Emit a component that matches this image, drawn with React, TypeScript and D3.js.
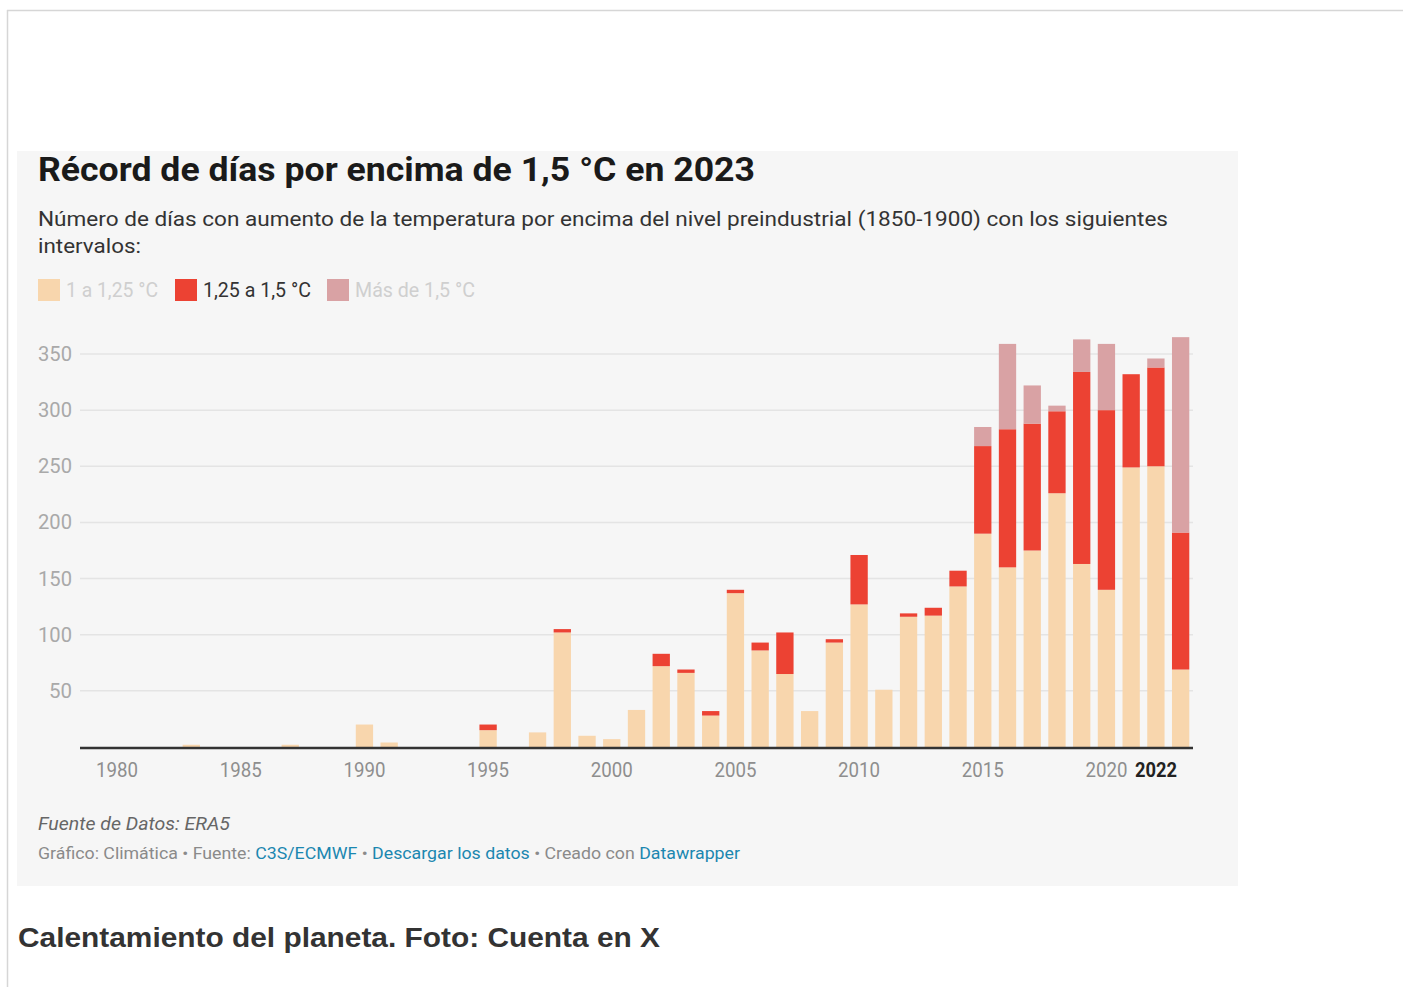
import React, { useRef, useEffect } from 'react'
import * as d3 from 'd3'

const years = d3.range(1979, 2024)

// days per year in each interval
const low = [0, 0, 0, 0, 2, 0, 0, 0, 2, 0, 0, 20, 4, 0, 0, 0, 15, 0, 13, 102, 10, 7, 33, 72, 66, 28, 137, 86, 65, 32, 93, 127, 51, 116, 117, 143, 190, 160, 175, 226, 163, 140, 249, 250, 69]
const mid = [0, 0, 0, 0, 0, 0, 0, 0, 0, 0, 0, 0, 0, 0, 0, 0, 5, 0, 0, 3, 0, 0, 0, 11, 3, 4, 3, 7, 37, 0, 3, 44, 0, 3, 7, 14, 78, 123, 113, 73, 171, 160, 83, 88, 122]
const high = [0, 0, 0, 0, 0, 0, 0, 0, 0, 0, 0, 0, 0, 0, 0, 0, 0, 0, 0, 0, 0, 0, 0, 0, 0, 0, 0, 0, 0, 0, 0, 0, 0, 0, 0, 0, 17, 76, 34, 5, 29, 59, 0, 8, 174]

const seriesKeys = ['low', 'mid', 'high']
const seriesLabels = ['1 a 1,25 °C', '1,25 a 1,5 °C', 'Más de 1,5 °C']
const seriesColors = ['#f8d6ad', '#ec4233', '#d9a2a4']
const legendTextColors = ['#cfcfcf', '#333333', '#cfcfcf']

const yTicks = [50, 100, 150, 200, 250, 300, 350]
const xTicks = [1980, 1985, 1990, 1995, 2000, 2005, 2010, 2015, 2020, 2022]

const W = 1403
const H = 987

export default function App() {
  const node = useRef<SVGSVGElement | null>(null)

  useEffect(() => {
    const svg = d3.select(node.current)
    svg.selectAll('*').remove()
    svg.attr('width', W).attr('height', H).attr('font-family', 'Roboto, sans-serif')

    // page frame
    svg.append('rect').attr('width', W).attr('height', H).attr('fill', '#fff')
    svg.append('line').attr('x1', 7).attr('x2', W).attr('y1', 10.5).attr('y2', 10.5).attr('stroke', '#d6d6d6').attr('stroke-width', 1.5)
    svg.append('line').attr('x1', 7.5).attr('x2', 7.5).attr('y1', 10).attr('y2', H).attr('stroke', '#d6d6d6').attr('stroke-width', 1.5)

    // chart panel
    svg.append('rect').attr('x', 17).attr('y', 151).attr('width', 1221).attr('height', 735).attr('fill', '#f6f6f6')

    svg.append('text').attr('x', 38).attr('y', 181).attr('font-size', 34).attr('font-weight', 700)
      .attr('fill', '#1a1a1a').attr('textLength', 717).attr('lengthAdjust', 'spacingAndGlyphs')
      .text('Récord de días por encima de 1,5 °C en 2023')

    svg.append('text').attr('x', 38).attr('y', 226).attr('font-size', 21).attr('fill', '#333')
      .attr('textLength', 1130).attr('lengthAdjust', 'spacingAndGlyphs')
      .text('Número de días con aumento de la temperatura por encima del nivel preindustrial (1850-1900) con los siguientes')
    svg.append('text').attr('x', 38).attr('y', 253).attr('font-size', 21).attr('fill', '#333')
      .attr('textLength', 103).attr('lengthAdjust', 'spacingAndGlyphs')
      .text('intervalos:')

    // legend
    const legendX = [38, 175, 327]
    const legendW = [92, 108, 120]
    seriesLabels.forEach((lab, i) => {
      svg.append('rect').attr('x', legendX[i]).attr('y', 279).attr('width', 22).attr('height', 22).attr('fill', seriesColors[i])
      svg.append('text').attr('x', legendX[i] + 28).attr('y', 297).attr('font-size', 20)
        .attr('fill', legendTextColors[i]).attr('textLength', legendW[i]).attr('lengthAdjust', 'spacingAndGlyphs')
        .text(lab)
    })

    const x = d3.scaleBand<number>().domain(years).range([80, 1193]).paddingInner(0.3).paddingOuter(0.15)
    const y = d3.scaleLinear().domain([0, 350]).range([747, 354])

    // grid + y labels
    const grid = svg.append('g')
    grid.selectAll('line').data(yTicks).join('line')
      .attr('x1', 80).attr('x2', 1193)
      .attr('y1', (d) => y(d)).attr('y2', (d) => y(d))
      .attr('stroke', '#e4e4e4').attr('stroke-width', 1.5)
    grid.selectAll('text').data(yTicks).join('text')
      .attr('x', 72).attr('y', (d) => y(d) + 7)
      .attr('text-anchor', 'end').attr('font-size', 20).attr('fill', '#a9a9a9')
      .attr('textLength', (d) => (d < 100 ? 23 : 34)).attr('lengthAdjust', 'spacingAndGlyphs')
      .text((d) => d)

    const table = years.map((yr, i) => ({ year: yr, low: low[i], mid: mid[i], high: high[i] }))
    const stacked = d3.stack().keys(seriesKeys)(table)

    svg.append('g').selectAll('g').data(stacked).join('g')
      .attr('fill', (_, i) => seriesColors[i])
      .selectAll('rect').data((d) => d).join('rect')
      .attr('x', (d) => x(d.data.year))
      .attr('width', x.bandwidth())
      .attr('y', (d) => y(d[1]))
      .attr('height', (d) => y(d[0]) - y(d[1]))

    // baseline
    svg.append('line').attr('x1', 80).attr('x2', 1193).attr('y1', y(0) + 1).attr('y2', y(0) + 1)
      .attr('stroke', '#333').attr('stroke-width', 2.5)

    // x labels
    svg.append('g').selectAll('text').data(xTicks).join('text')
      .attr('x', (d) => x(d) + x.bandwidth() / 2)
      .attr('y', 777)
      .attr('text-anchor', 'middle')
      .attr('font-size', 21)
      .attr('font-weight', (d) => (d === 2022 ? 700 : 400))
      .attr('fill', (d) => (d === 2022 ? '#222' : '#8e8e8e'))
      .attr('textLength', 42).attr('lengthAdjust', 'spacingAndGlyphs')
      .text((d) => d)

    // footer
    svg.append('text').attr('x', 38).attr('y', 830).attr('font-size', 19).attr('font-style', 'italic')
      .attr('fill', '#666').attr('textLength', 192).attr('lengthAdjust', 'spacingAndGlyphs')
      .text('Fuente de Datos: ERA5')

    const credit = svg.append('text').attr('x', 38).attr('y', 859).attr('font-size', 17)
      .attr('fill', '#8a8a8a').attr('textLength', 702).attr('lengthAdjust', 'spacingAndGlyphs')
    const parts = [
      ['Gráfico: Climática • Fuente: ', false],
      ['C3S/ECMWF', true],
      [' • ', false],
      ['Descargar los datos', true],
      [' • Creado con ', false],
      ['Datawrapper', true],
    ]
    parts.forEach(([t, link]) => {
      credit.append('tspan').attr('fill', link ? '#1b87b0' : '#8a8a8a').text(t as string)
    })

    svg.append('text').attr('x', 18).attr('y', 947).attr('font-size', 28).attr('font-weight', 700)
      .attr('font-family', '"Liberation Sans", Arial, sans-serif')
      .attr('fill', '#333').attr('textLength', 642).attr('lengthAdjust', 'spacingAndGlyphs')
      .text('Calentamiento del planeta. Foto: Cuenta en X')
  }, [])

  return <svg ref={node} style={{ position: 'absolute', left: 0, top: 0, display: 'block' }}></svg>
}
